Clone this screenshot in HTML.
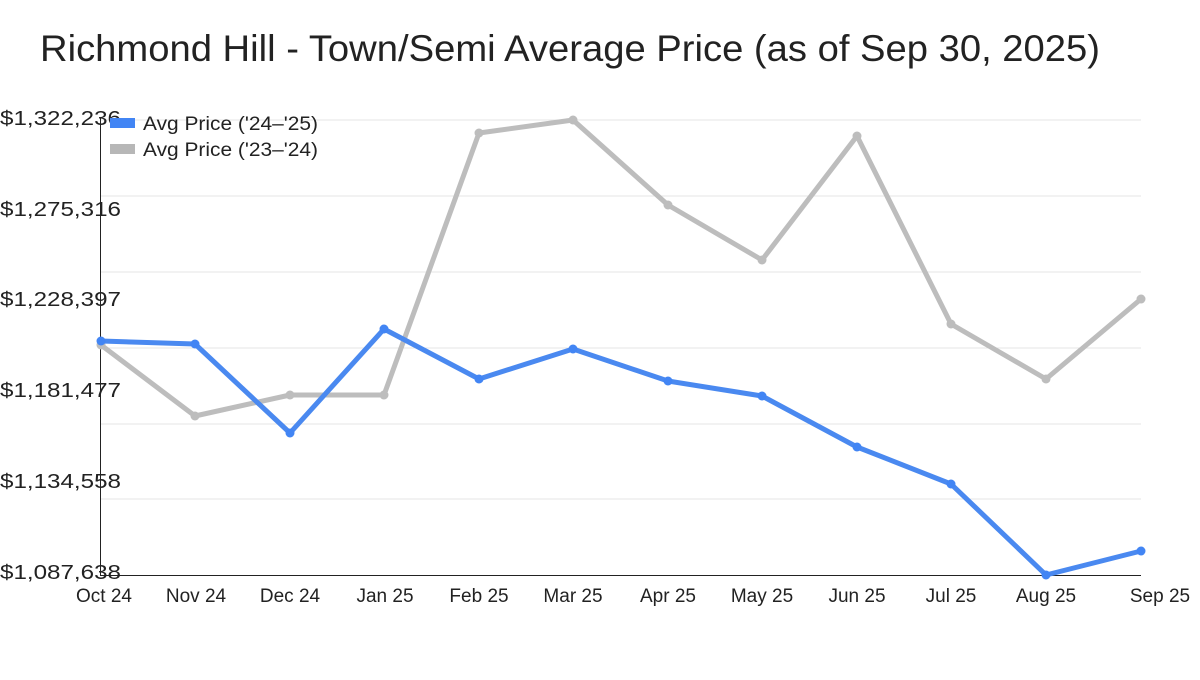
<!DOCTYPE html>
<html><head><meta charset="utf-8"><style>
html,body{margin:0;padding:0;background:#fff;}
svg text{font-family:"Liberation Sans",sans-serif;fill:#222;}
</style></head><body>
<svg width="1200" height="675" xmlns="http://www.w3.org/2000/svg">
<text x="40" y="61" font-size="37" textLength="1060" lengthAdjust="spacingAndGlyphs">Richmond Hill - Town/Semi Average Price (as of Sep 30, 2025)</text>
<g stroke="#e6e6e6" stroke-width="1">
<line x1="101" x2="1141" y1="120" y2="120"/><line x1="101" x2="1141" y1="196" y2="196"/>
<line x1="101" x2="1141" y1="272" y2="272"/><line x1="101" x2="1141" y1="348" y2="348"/>
<line x1="101" x2="1141" y1="424" y2="424"/><line x1="101" x2="1141" y1="499" y2="499"/>
</g>
<line x1="100.5" x2="100.5" y1="117" y2="575" stroke="#222"/>
<line x1="100" x2="1141" y1="575.5" y2="575.5" stroke="#222"/>
<g font-size="20">
<text x="0" y="125" textLength="121" lengthAdjust="spacingAndGlyphs">$1,322,236</text><text x="0" y="216" textLength="121" lengthAdjust="spacingAndGlyphs">$1,275,316</text>
<text x="0" y="306" textLength="121" lengthAdjust="spacingAndGlyphs">$1,228,397</text><text x="0" y="397" textLength="121" lengthAdjust="spacingAndGlyphs">$1,181,477</text>
<text x="0" y="488" textLength="121" lengthAdjust="spacingAndGlyphs">$1,134,558</text><text x="0" y="579" textLength="121" lengthAdjust="spacingAndGlyphs">$1,087,638</text>
</g>
<g font-size="19" text-anchor="middle">
<text x="104" y="602">Oct 24</text><text x="196" y="602">Nov 24</text><text x="290" y="602">Dec 24</text>
<text x="385" y="602">Jan 25</text><text x="479" y="602">Feb 25</text><text x="573" y="602">Mar 25</text>
<text x="668" y="602">Apr 25</text><text x="762" y="602">May 25</text><text x="857" y="602">Jun 25</text>
<text x="951" y="602">Jul 25</text><text x="1046" y="602">Aug 25</text><text x="1160" y="602">Sep 25</text>
</g>
<polyline fill="none" stroke="#bdbdbd" stroke-width="5" stroke-linejoin="round" points="101,345 195,416 290,395 384,395 479,133 573,120 668,205 762,260 857,136 951,324 1046,379 1141,299"/>
<g fill="#bdbdbd"><circle cx="101" cy="345" r="4.5"/><circle cx="195" cy="416" r="4.5"/><circle cx="290" cy="395" r="4.5"/><circle cx="384" cy="395" r="4.5"/><circle cx="479" cy="133" r="4.5"/><circle cx="573" cy="120" r="4.5"/><circle cx="668" cy="205" r="4.5"/><circle cx="762" cy="260" r="4.5"/><circle cx="857" cy="136" r="4.5"/><circle cx="951" cy="324" r="4.5"/><circle cx="1046" cy="379" r="4.5"/><circle cx="1141" cy="299" r="4.5"/></g>
<polyline fill="none" stroke="#4a89f0" stroke-width="5" stroke-linejoin="round" points="101,341 195,344 290,433 384,329 479,379 573,349 668,381 762,396 857,447 951,484 1046,575 1141,551"/>
<g fill="#4285f4"><circle cx="101" cy="341" r="4.5"/><circle cx="195" cy="344" r="4.5"/><circle cx="290" cy="433" r="4.5"/><circle cx="384" cy="329" r="4.5"/><circle cx="479" cy="379" r="4.5"/><circle cx="573" cy="349" r="4.5"/><circle cx="668" cy="381" r="4.5"/><circle cx="762" cy="396" r="4.5"/><circle cx="857" cy="447" r="4.5"/><circle cx="951" cy="484" r="4.5"/><circle cx="1046" cy="575" r="4.5"/><circle cx="1141" cy="551" r="4.5"/></g>
<rect x="110" y="118" width="25" height="10" fill="#4285f4"/>
<rect x="110" y="144" width="25" height="10" fill="#b7b7b7"/>
<text x="143" y="130" font-size="19" textLength="175" lengthAdjust="spacingAndGlyphs">Avg Price ('24–'25)</text>
<text x="143" y="156" font-size="19" textLength="175" lengthAdjust="spacingAndGlyphs">Avg Price ('23–'24)</text>
</svg>
</body></html>
